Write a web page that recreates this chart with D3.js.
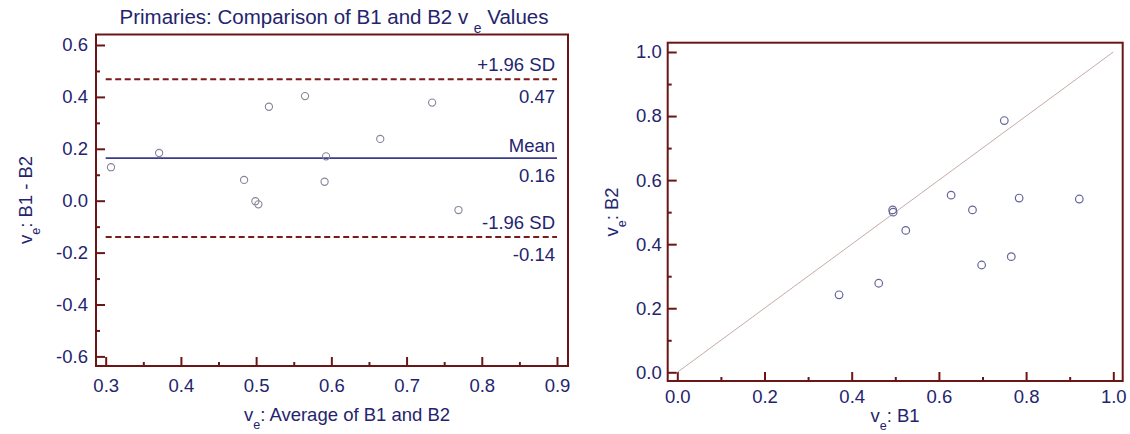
<!DOCTYPE html>
<html>
<head>
<meta charset="utf-8">
<script src="https://cdn.jsdelivr.net/npm/d3@7"></script>
<style>
  html, body { margin: 0; padding: 0; background: #ffffff; }
  svg { display: block; }
  text { font-family: "Liberation Sans", Arial, sans-serif; }
</style>
</head>
<body>
<svg id="chart" width="1130" height="434"></svg>
<script>
// ---- Data ----
// Bland-Altman plot: average of B1 and B2 vs difference B1 - B2
const avgVals  = [0.307, 0.371, 0.484, 0.499, 0.503, 0.517, 0.565, 0.593, 0.591, 0.734, 0.665, 0.769];
const diffVals = [0.129, 0.184, 0.080, -0.002, -0.014, 0.362, 0.403, 0.171, 0.073, 0.378, 0.238, -0.036];
// Limits of agreement
const limitValues = [0.468, 0.164, -0.140];
const limitNames  = ["+1.96 SD", "Mean", "-1.96 SD"];
// Scatter plot: B1 vs B2
const b1Vals = [0.371, 0.462, 0.524, 0.494, 0.495, 0.698, 0.766, 0.677, 0.628, 0.922, 0.784, 0.750];
const b2Vals = [0.242, 0.278, 0.443, 0.507, 0.500, 0.335, 0.361, 0.507, 0.553, 0.541, 0.544, 0.786];
// Ticks
const leftXTicks  = [0.3, 0.4, 0.5, 0.6, 0.7, 0.8, 0.9];
const leftXMinor  = [0.35, 0.45, 0.55, 0.65, 0.75, 0.85];
const leftYTicks  = [-0.6, -0.4, -0.2, 0.0, 0.2, 0.4, 0.6];
const leftYMinor  = [-0.5, -0.3, -0.1, 0.1, 0.3, 0.5];
const rightTicks  = [0.0, 0.2, 0.4, 0.6, 0.8, 1.0];
const rightMinor  = [0.1, 0.3, 0.5, 0.7, 0.9];

// ---- Styles ----
const FRAME = "#6b1616";
const TEXT = "#24246e";
const MEAN = "#3b3b8e";
const DASH = "#7a1a1a";
const f1 = d3.format(".1f"), f2 = d3.format(".2f");
const fmt1 = d => f1(d).replace("\u2212", "-");
const fmt2 = d => f2(d).replace("\u2212", "-");
const FS = 18.5;

const svg = d3.select("#chart");

function drawAxes(g, x, y, frame, xt, xm, yt, ym, xPad, yPad) {
  g.append("rect")
    .attr("x", frame.l).attr("y", frame.t)
    .attr("width", frame.r - frame.l).attr("height", frame.b - frame.t)
    .attr("fill", "none").attr("stroke", FRAME).attr("stroke-width", 2);

  const styleAxis = sel => {
    sel.select(".domain").remove();
    sel.selectAll("line").attr("stroke", FRAME).attr("stroke-width", 2);
    sel.selectAll("text").attr("fill", TEXT).style("font-size", FS + "px")
      .style("font-family", '"Liberation Sans", Arial, sans-serif');
  };
  g.append("g").attr("transform", `translate(0,${frame.b})`)
    .call(d3.axisBottom(x).tickValues(xt).tickSize(-9).tickPadding(xPad).tickFormat(fmt1))
    .call(styleAxis);
  g.append("g").attr("transform", `translate(0,${frame.b})`)
    .call(d3.axisBottom(x).tickValues(xm).tickSize(-4).tickFormat(""))
    .call(styleAxis);
  g.append("g").attr("transform", `translate(${frame.l},0)`)
    .call(d3.axisLeft(y).tickValues(yt).tickSize(-9).tickPadding(yPad).tickFormat(fmt1))
    .call(styleAxis);
  g.append("g").attr("transform", `translate(${frame.l},0)`)
    .call(d3.axisLeft(y).tickValues(ym).tickSize(-4).tickFormat(""))
    .call(styleAxis);
}

function subLabel(g, x, y, before, sub, after, size, rotate, anchor) {
  const t = g.append("text")
    .attr("transform", `translate(${x},${y})` + (rotate ? " rotate(-90)" : ""))
    .attr("text-anchor", anchor || "middle")
    .attr("fill", TEXT).style("font-size", size + "px");
  t.append("tspan").text(before);
  t.append("tspan").attr("dy", size * 0.42).style("font-size", (size * 0.68) + "px").text(sub);
  t.append("tspan").attr("dy", -size * 0.42).text(after);
  return t;
}

// ===== Left: Bland-Altman =====
{
  const frame = { l: 96, r: 568, t: 34.5, b: 366 };
  const x = d3.scaleLinear().domain([0.3, 0.9]).range([105.7, 557]);
  const y = d3.scaleLinear().domain([-0.6, 0.6]).range([356.4, 45]);
  const g = svg.append("g");
  drawAxes(g, x, y, frame, leftXTicks, leftXMinor, leftYTicks, leftYMinor, 12.5, 8);

  limitValues.forEach((v, i) => {
    const isMean = i === 1;
    g.append("line")
      .attr("x1", x(0.3)).attr("x2", x(0.9))
      .attr("y1", y(v)).attr("y2", y(v))
      .attr("stroke", isMean ? MEAN : DASH)
      .attr("stroke-width", isMean ? 1.6 : 2)
      .attr("stroke-dasharray", isMean ? null : "6,3.5");
    g.append("text")
      .attr("x", x(0.9) - 2).attr("y", y(v) - (isMean ? 6.5 : 8))
      .attr("text-anchor", "end").attr("fill", TEXT).style("font-size", FS + "px")
      .text(limitNames[i]);
    g.append("text")
      .attr("x", x(0.9) - 2).attr("y", y(v) + 24)
      .attr("text-anchor", "end").attr("fill", TEXT).style("font-size", FS + "px")
      .text(fmt2(v));
  });

  g.selectAll("circle.pt").data(avgVals.map((a, i) => [a, diffVals[i]]))
    .enter().append("circle").attr("class", "pt")
    .attr("cx", d => x(d[0])).attr("cy", d => y(d[1])).attr("r", 3.6)
    .attr("fill", "none").attr("stroke", "#85859a").attr("stroke-width", 1.1);

  subLabel(g, 334, 24, "Primaries: Comparison of B1 and B2 v ", "e", " Values", 20.5, false);
  subLabel(g, 347, 421, "v", "e", ": Average of B1 and B2", FS, false);
  subLabel(g, 32, 200, "v", "e", ": B1 - B2", FS, true);
}

// ===== Right: B1 vs B2 scatter =====
{
  const frame = { l: 667.7, r: 1122.7, t: 42.7, b: 381 };
  const x = d3.scaleLinear().domain([0, 1]).range([677.3, 1113.3]);
  const y = d3.scaleLinear().domain([0, 1]).range([372.3, 52]);
  const g = svg.append("g");
  drawAxes(g, x, y, frame, rightTicks, rightMinor, rightTicks, rightMinor, 9, 6);

  g.append("line")
    .attr("x1", x(0)).attr("y1", y(0)).attr("x2", x(1)).attr("y2", y(1))
    .attr("stroke", "#c4aca6").attr("stroke-width", 1);

  g.selectAll("circle.pt").data(b1Vals.map((a, i) => [a, b2Vals[i]]))
    .enter().append("circle").attr("class", "pt")
    .attr("cx", d => x(d[0])).attr("cy", d => y(d[1])).attr("r", 3.8)
    .attr("fill", "none").attr("stroke", "#65659a").attr("stroke-width", 1.2);

  subLabel(g, 895, 422, "v", "e", ": B1", FS, false);
  subLabel(g, 618, 212, "v", "e", ": B2", FS, true);
}
</script>
</body>
</html>
